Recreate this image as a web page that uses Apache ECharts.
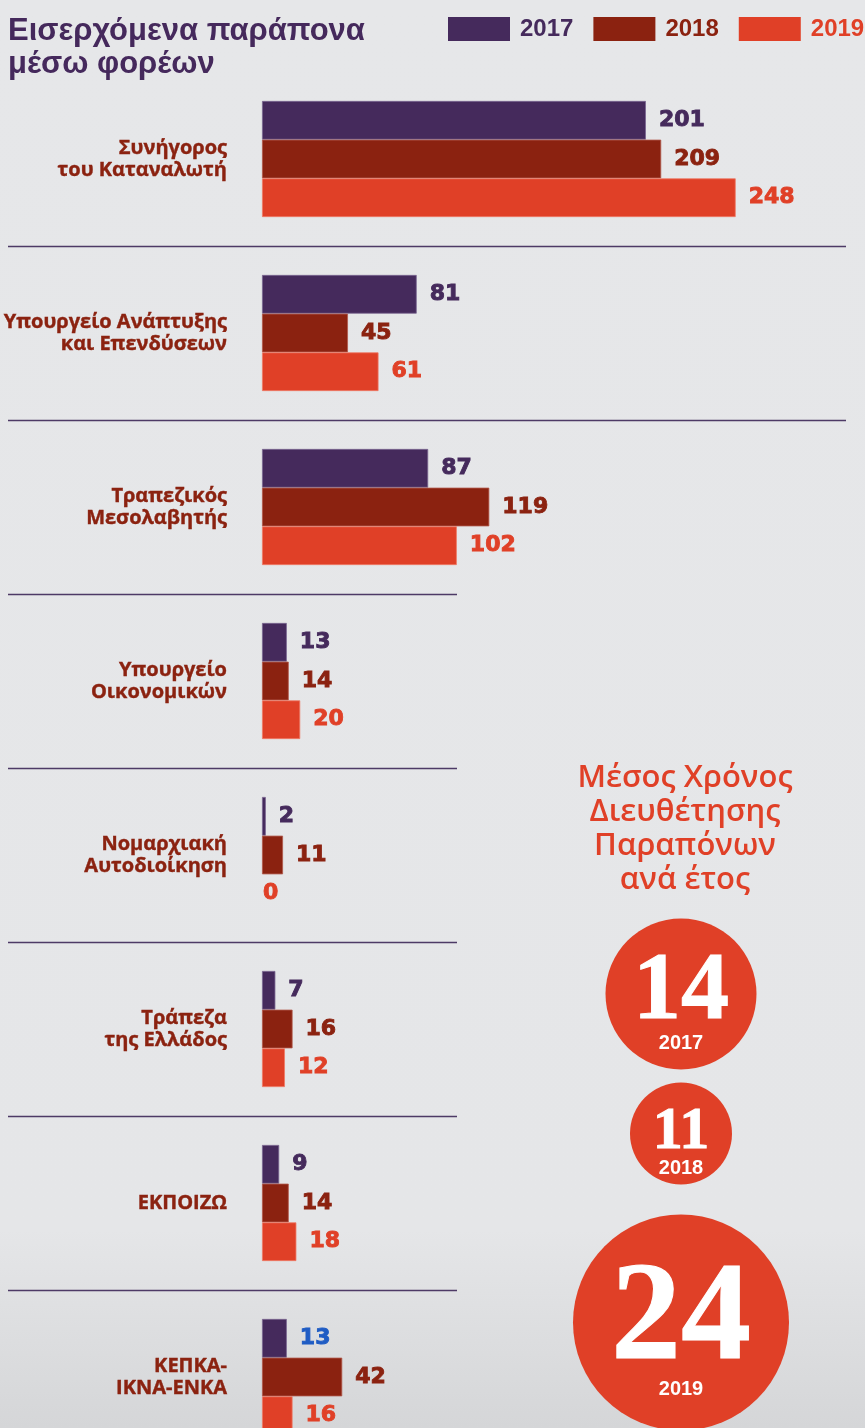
<!DOCTYPE html>
<html>
<head>
<meta charset="utf-8">
<script src="https://cdn.jsdelivr.net/npm/echarts@6/dist/echarts.min.js"></script>
<style>
html,body{margin:0;padding:0;background:#e6e7e9;overflow:hidden;}
#c{width:865px;height:1464px;}
</style>
</head>
<body>
<div id="c"></div>
<script>
// ---- data ----
const categories = [
  'Συνήγορος\nτου Καταναλωτή',
  'Υπουργείο Ανάπτυξης\nκαι Επενδύσεων',
  'Τραπεζικός\nΜεσολαβητής',
  'Υπουργείο\nΟικονομικών',
  'Νομαρχιακή\nΑυτοδιοίκηση',
  'Τράπεζα\nτης Ελλάδος',
  'ΕΚΠΟΙΖΩ',
  'ΚΕΠΚΑ-\nΙΚΝΑ-ΕΝΚΑ'
];
const years = ['2017', '2018', '2019'];
const values2017 = [201, 81, 87, 13, 2, 7, 9, 13];
const values2018 = [209, 45, 119, 14, 11, 16, 14, 42];
const values2019 = [248, 61, 102, 20, 0, 12, 18, 16];
const avgDays = [14, 11, 24];
const sideTitle = 'Μέσος Χρόνος\nΔιευθέτησης\nΠαραπόνων\nανά έτος';
const mainTitle = 'Εισερχόμενα παράπονα\nμέσω φορέων';

// ---- styles ----
const COLORS = ['#452a5c', '#8b2210', '#e04027'];
const BORDERS = ['#7a6690', '#b0584a', '#ef7a66'];
const HIGHLIGHT = { series: 0, index: 7, color: '#1f5cc4' };
const SEP_COLOR = '#4d3a66';
const CIRCLE = {
  diam: [151, 102, 216],
  numSize: [96, 60, 140],
  gaps: [13, 30],
  firstCenter: 994,
  cx: 681
};

const chart = echarts.init(document.getElementById('c'));
const seriesVals = [values2017, values2018, values2019];

const barSeries = seriesVals.map((vals, si) => ({
  name: years[si],
  type: 'bar',
  barWidth: 38.7,
  barGap: '0%',
  xAxisIndex: 0, yAxisIndex: 0,
  itemStyle: { color: COLORS[si], borderColor: BORDERS[si], borderWidth: 0.8 },
  label: {
    show: true, position: 'right', distance: 13,
    color: COLORS[si], fontSize: 22, fontWeight: 'bold',
    fontFamily: 'DejaVu Sans',
    textBorderColor: COLORS[si], textBorderWidth: 0.9
  },
  data: vals.map((v, i) => {
    const item = { value: v };
    if (si === HIGHLIGHT.series && i === HIGHLIGHT.index)
      item.label = { color: HIGHLIGHT.color, textBorderColor: HIGHLIGHT.color };
    if (v === 0) { item.itemStyle = { borderWidth: 0 }; item.label = { distance: 1 }; }
    return item;
  })
}));

// circle layout (stacked vertically)
const centers = [];
let cy = CIRCLE.firstCenter;
avgDays.forEach((v, i) => {
  if (i > 0) cy += CIRCLE.diam[i - 1] / 2 + CIRCLE.gaps[i - 1] + CIRCLE.diam[i] / 2;
  centers.push(cy);
});

const scatterSeries = {
  type: 'scatter',
  xAxisIndex: 1, yAxisIndex: 1,
  symbol: 'circle',
  silent: true,
  itemStyle: { color: '#e04027', opacity: 1 },
  data: avgDays.map((v, i) => ({
    value: [CIRCLE.cx, centers[i]],
    symbolSize: CIRCLE.diam[i],
    label: {
      show: true, position: 'inside', offset: [0, 12],
      formatter: '{n|' + v + '}\n{y|' + years[i] + '}',
      rich: {
        n: { fontSize: CIRCLE.numSize[i], lineHeight: CIRCLE.numSize[i] * 0.78,
             fontFamily: 'Liberation Serif', fontWeight: 'bold', color: '#fff', align: 'center',
             textBorderColor: '#fff', textBorderWidth: 1 },
        y: { fontSize: 20, lineHeight: 26, fontFamily: 'Liberation Sans',
             fontWeight: 'bold', color: '#fff', align: 'center' }
      }
    }
  }))
};

const option = {
  animation: false,
  backgroundColor: {
    type: 'linear', x: 0, y: 0, x2: 0, y2: 1,
    colorStops: [
      { offset: 0, color: '#e6e7e9' },
      { offset: 0.84, color: '#e5e6e8' },
      { offset: 0.975, color: '#d5d6d8' },
      { offset: 1, color: '#d4d5d7' }
    ]
  },
  title: {
    text: mainTitle, left: 3, top: 10,
    textStyle: { fontSize: 31, fontWeight: 'bold', color: '#45295c',
                 fontFamily: 'Liberation Sans', lineHeight: 33 }
  },
  legend: {
    left: 443, top: 12, width: 425,
    itemWidth: 62, itemHeight: 24, itemGap: 20,
    icon: 'rect',
    itemStyle: { borderWidth: 0 },
    data: years.map((y, i) => ({ name: y, textStyle: { color: COLORS[i] } })),
    textStyle: { fontSize: 24, fontWeight: 'bold', fontFamily: 'Liberation Sans',
                 padding: [0, 0, 0, 5] },
    selectedMode: false
  },
  grid: [
    { left: 262, top: 72, width: 573, height: 1392 },
    { left: 0, top: 0, width: 865, height: 1428 }
  ],
  xAxis: [
    { type: 'value', gridIndex: 0, min: 0, max: 300, show: false },
    { type: 'value', gridIndex: 1, min: 0, max: 865, show: false }
  ],
  yAxis: [
    { type: 'category', gridIndex: 0, data: categories, inverse: true,
      axisLine: { show: false }, axisTick: { show: false }, splitLine: { show: false },
      axisLabel: { margin: 35, color: '#8b2210', fontSize: 20, fontWeight: 'bold',
                   fontFamily: 'Open Sans', lineHeight: 22, align: 'right',
                   padding: [8, 0, 0, 0],
                   textBorderColor: '#8b2210', textBorderWidth: 0.4 } },
    { type: 'value', gridIndex: 1, min: 0, max: 1428, inverse: true, show: false }
  ],
  series: [...barSeries, scatterSeries]
};
chart.setOption(option);

// separators at category boundaries
const gr = [];
for (let i = 0; i < categories.length - 1; i++) {
  const a = chart.convertToPixel({ yAxisIndex: 0 }, categories[i]);
  const b = chart.convertToPixel({ yAxisIndex: 0 }, categories[i + 1]);
  const y = Math.round((a + b) / 2) + 0.5;
  gr.push({ type: 'line', silent: true,
    shape: { x1: 8, y1: y, x2: i < 2 ? 846 : 457, y2: y },
    style: { stroke: SEP_COLOR, lineWidth: 1.6 } });
}
gr.push({ type: 'text', silent: true, x: 685, y: 761,
  style: { text: sideTitle, fill: '#e04027', font: '600 31px "Open Sans"',
           textAlign: 'center', lineHeight: 34 } });
chart.setOption({ graphic: gr });
</script>
</body>
</html>
